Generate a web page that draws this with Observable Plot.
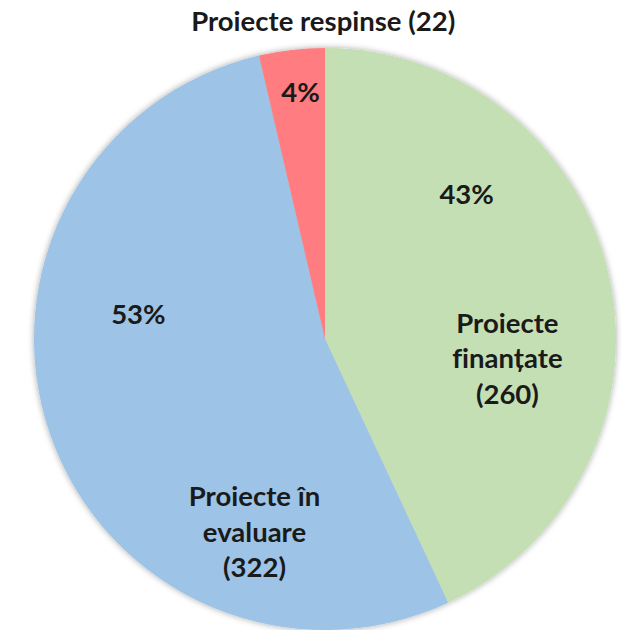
<!DOCTYPE html>
<html>
<head>
<meta charset="utf-8">
<script src="https://cdn.jsdelivr.net/npm/d3@7"></script>
<script src="https://cdn.jsdelivr.net/npm/@observablehq/plot@0.6"></script>
<style>
  html, body { margin: 0; padding: 0; background: #fff; }
  #chart svg { display: block; }
  #chart svg text { font-variant-ligatures: none; font-feature-settings: "liga" 0; }
</style>
</head>
<body>
<div id="chart"></div>
<script>
// ---- data ----
const categories = ["Proiecte finanțate", "Proiecte în evaluare", "Proiecte respinse"];
const counts = [260, 322, 22];
const percentLabels = ["43%", "53%", "4%"];
const categoryLabels = ["Proiecte\nfinanțate\n(260)", "Proiecte în\nevaluare\n(322)", "Proiecte respinse (22)"];
const colors = ["#C4DFB4", "#9DC3E6", "#FF7C80"];

// ---- layout (label anchors in unit-circle coordinates; pie radius = 1) ----
const pctPos = [[0.485, 0.505], [-0.643, 0.093], [-0.086, 0.855]];
const catPos = [[0.625, -0.06], [-0.244, -0.655], [-0.008, 1.10]];

const W = 628, H = 630, CX = 325, CY = 339, R = 291;

const pie = d3.pie().sort(null).value(d => d)(counts);
const slices = pie.map((p, i) => ({...p, name: categories[i], color: colors[i]}));

const texts = [];
categories.forEach((c, i) => {
  texts.push({x: pctPos[i][0], y: pctPos[i][1], text: percentLabels[i]});
  texts.push({x: catPos[i][0], y: catPos[i][1], text: categoryLabels[i]});
});

function pieMark(index, scales, values, dimensions, context) {
  const cx = scales.x(0), cy = scales.y(0), r = scales.x(1) - scales.x(0);
  const g = d3.create("svg:g");
  const defs = g.append("defs");
  const f = defs.append("filter").attr("id", "pieShadow").attr("x", "-10%").attr("y", "-10%").attr("width", "120%").attr("height", "120%");
  f.append("feDropShadow").attr("dx", 0).attr("dy", 0).attr("stdDeviation", 3).attr("flood-color", "#000").attr("flood-opacity", 0.35);
  const arc = d3.arc().innerRadius(0).outerRadius(r);
  const gg = g.append("g").attr("transform", `translate(${cx},${cy})`).attr("filter", "url(#pieShadow)");
  gg.selectAll("path").data(slices).join("path")
    .attr("d", arc)
    .attr("fill", d => d.color);
  return g.node();
}

const chart = Plot.plot({
  width: W,
  height: H,
  margin: 0,
  x: {domain: [-CX / R, (W - CX) / R], range: [0, W], axis: null},
  y: {domain: [-(H - CY) / R, CY / R], range: [H, 0], axis: null},
  style: {background: "#fff"},
  marks: [
    pieMark,
    Plot.text(texts, {
      x: "x", y: "y", text: "text",
      fontFamily: "Lato, 'Open Sans', sans-serif",
      fontWeight: "bold",
      fontSize: 27.5,
      lineHeight: 1.3,
      fill: "#1a1a1a"
    })
  ]
});
document.getElementById("chart").appendChild(chart);
</script>
</body>
</html>
